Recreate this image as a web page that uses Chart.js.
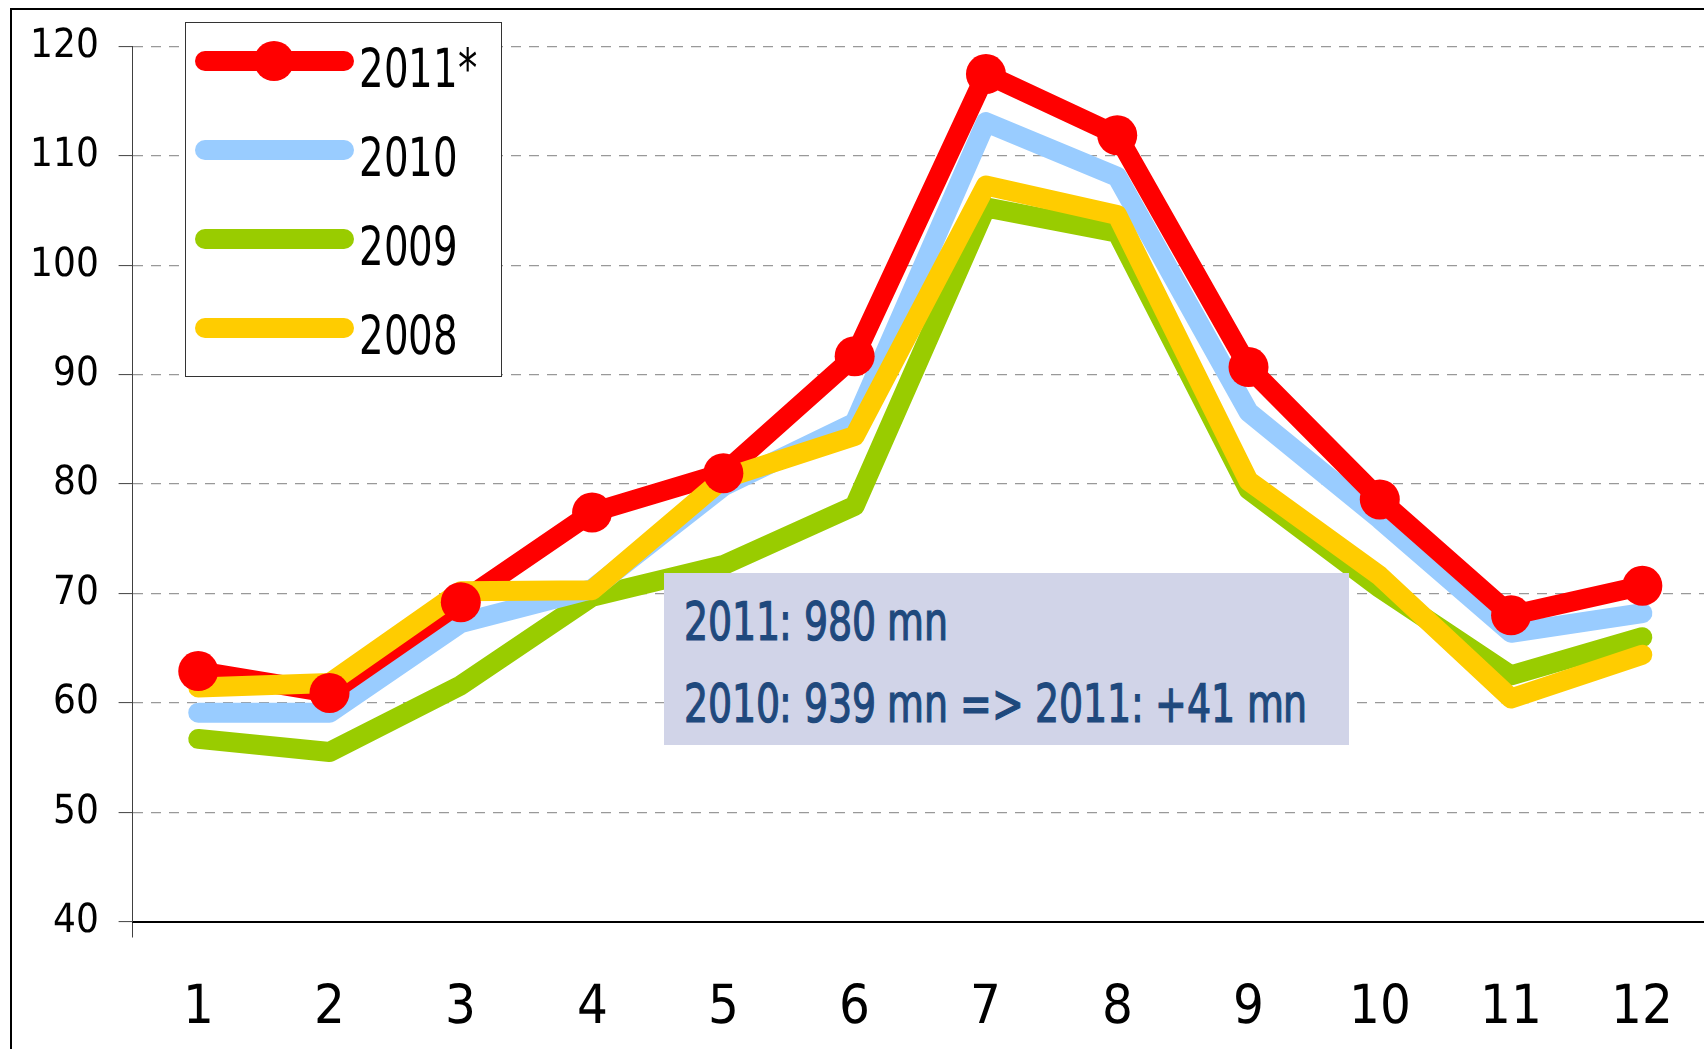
<!DOCTYPE html>
<html>
<head>
<meta charset="utf-8">
<script src="https://cdn.jsdelivr.net/npm/chart.js@4.4.1/dist/chart.umd.min.js"></script>
<style>
  html, body { margin: 0; padding: 0; background: #fff; overflow: hidden; }
  #wrap { position: relative; width: 1704px; height: 1049px; overflow: hidden; }
  #frame { position: absolute; left: 10px; top: 8px; width: 1800px; height: 1200px;
           border: 2px solid #000; box-sizing: border-box; }
  #chart { position: absolute; left: 0; top: 0; }
  .narrow { font-family: 'ChartNarrow', 'DejaVu Sans', sans-serif; font-stretch: condensed; }
  #legend { position: absolute; left: 185px; top: 22px; width: 317px; height: 355px;
            border: 1px solid #333; background: #fff; box-sizing: border-box; }
  .lg-line { position: absolute; height: 20px; border-radius: 10px; }
  .lg-dot { position: absolute; width: 40px; height: 40px; border-radius: 50%; }
  .lg-text { position: absolute; font-size: 54px; line-height: 54px; color: #000;
             white-space: nowrap; transform-origin: 0 0; }
  #note { position: absolute; left: 664px; top: 573px; width: 685px; height: 172px;
          background: #D1D4E8; }
  .note-text { position: absolute; left: 20px; font-size: 53px; line-height: 53px;
               color: #1F497D; white-space: nowrap; transform-origin: 0 0;
               -webkit-text-stroke: 1.2px #1F497D; }
</style>
</head>
<body>
<div id="wrap">
  <div id="frame"></div>
  <canvas id="chart" width="1728" height="1049"></canvas>
  <div id="legend" class="narrow"></div>
  <div id="note" class="narrow"></div>
</div>
<script>
// categories (months) and y tick values
const months = ['1', '2', '3', '4', '5', '6', '7', '8', '9', '10', '11', '12'];
const yTicks = [40, 50, 60, 70, 80, 90, 100, 110, 120];

// series values
const s2011 = [62.9, 60.9, 69.2, 77.4, 81.0, 91.7, 117.5, 111.9, 90.7, 78.6, 68.0, 70.7];
const s2010 = [59.1, 59.1, 67.3, 70.4, 79.8, 85.6, 113.1, 108.1, 86.6, 76.8, 66.4, 68.2];
const s2009 = [56.7, 55.5, 61.6, 69.7, 72.6, 78.0, 105.3, 103.0, 79.5, 70.5, 62.5, 66.0];
const s2008 = [61.4, 61.8, 70.2, 70.3, 80.5, 84.4, 107.3, 104.6, 80.3, 71.6, 60.4, 64.4];

const seriesNames = ['2011*', '2010', '2009', '2008'];
const seriesColors = ['#FF0000', '#99CCFF', '#99CC00', '#FFCC00'];

const noteLines = ['2011: 980 mn', '2010: 939 mn => 2011: +41 mn'];

const FONT = "'ChartNarrow', 'DejaVu Sans', sans-serif";

// narrow local face for the canvas text (falls back to DejaVu Sans)
const narrowFace = new FontFace('ChartNarrow',
    'local("Liberation Sans Narrow"), local("LiberationSansNarrow-Regular"), ' +
    'local("DejaVu Sans Condensed"), local("DejaVuSansCondensed")');
document.fonts.add(narrowFace);

function lineSet(label, data, color, order) {
    return {
        label: label,
        data: data,
        borderColor: color,
        backgroundColor: color,
        borderWidth: 20,
        borderCapStyle: 'round',
        borderJoinStyle: 'round',
        pointRadius: 0,
        pointHoverRadius: 0,
        tension: 0,
        order: order
    };
}

function drawChart() {
    const ctx = document.getElementById('chart').getContext('2d');
    new Chart(ctx, {
        type: 'line',
        data: {
            labels: months,
            datasets: [
                // red markers drawn above everything
                {
                    label: '2011* markers',
                    data: s2011,
                    showLine: false,
                    pointRadius: 20,
                    pointHoverRadius: 20,
                    pointBackgroundColor: seriesColors[0],
                    pointBorderWidth: 0,
                    order: 0
                },
                lineSet(seriesNames[3], s2008, seriesColors[3], 1),
                lineSet(seriesNames[0], s2011, seriesColors[0], 2),
                lineSet(seriesNames[1], s2010, seriesColors[1], 3),
                lineSet(seriesNames[2], s2009, seriesColors[2], 4)
            ]
        },
        options: {
            responsive: false,
            animation: false,
            devicePixelRatio: 1,
            layout: { padding: { top: 46.7, right: 4, bottom: 0, left: 0 } },
            plugins: {
                legend: { display: false },
                tooltip: { enabled: false }
            },
            scales: {
                x: {
                    offset: true,
                    afterFit: (scale) => { scale.height = 127.5; },
                    grid: {
                        display: true,
                        offset: true,
                        drawOnChartArea: false,
                        drawTicks: true,
                        tickLength: 16,
                        tickWidth: 1,
                        tickColor: (c) => c.index === 0 ? '#404040' : 'rgba(0,0,0,0)'
                    },
                    border: { display: true, color: '#000', width: 2 },
                    ticks: {
                        color: '#000',
                        padding: 39,
                        font: { family: FONT, size: 54 },
                        maxRotation: 0,
                        autoSkip: false
                    }
                },
                y: {
                    min: 40,
                    max: 120,
                    afterFit: (scale) => { scale.width = 132.6; },
                    afterBuildTicks: (scale) => { scale.ticks = yTicks.map(v => ({ value: v })); },
                    grid: {
                        color: '#999',
                        lineWidth: 1.2,
                        drawTicks: true,
                        tickLength: 14,
                        tickColor: '#404040',
                        tickWidth: 1
                    },
                    border: { display: true, color: '#404040', width: 1, dash: [10, 8] },
                    ticks: {
                        color: '#000',
                        padding: 20,
                        font: { family: FONT, size: 40 }
                    }
                }
            }
        }
    });
}

// legend box (html overlay)
const legend = document.getElementById('legend');
const rowY = [38, 127, 216, 305];  // row centers relative to legend box
const legendTexts = [];
seriesNames.forEach((name, i) => {
    const ln = document.createElement('div');
    ln.className = 'lg-line';
    ln.style.left = '9px';
    ln.style.width = '159px';
    ln.style.top = (rowY[i] - 10) + 'px';
    ln.style.background = seriesColors[i];
    legend.appendChild(ln);
    if (i === 0) {
        const dot = document.createElement('div');
        dot.className = 'lg-dot';
        dot.style.left = (88 - 20) + 'px';
        dot.style.top = (rowY[i] - 20) + 'px';
        dot.style.background = seriesColors[i];
        legend.appendChild(dot);
    }
    const tx = document.createElement('div');
    tx.className = 'lg-text';
    tx.style.left = '173px';
    tx.style.top = (rowY[i] - 19) + 'px';
    tx.textContent = name;
    legend.appendChild(tx);
    legendTexts.push(tx);
});

// annotation box
const note = document.getElementById('note');
const noteTexts = [];
noteLines.forEach((t, i) => {
    const d = document.createElement('div');
    d.className = 'note-text';
    d.style.top = (22 + i * 82) + 'px';
    d.textContent = t;
    note.appendChild(d);
    noteTexts.push(d);
});

// squeeze the html text to the narrow widths of the original font
function squeeze(els, refIndex, target) {
    els.forEach(el => { el.style.transform = 'none'; });
    const w = els[refIndex].getBoundingClientRect().width;
    const k = target / w;
    els.forEach(el => { el.style.transform = 'scaleX(' + k + ')'; });
}

narrowFace.load().catch(() => null).then(() => {
    drawChart();
    squeeze(legendTexts, 0, 118);
    squeeze(noteTexts, 1, 623);
});
</script>
</body>
</html>
